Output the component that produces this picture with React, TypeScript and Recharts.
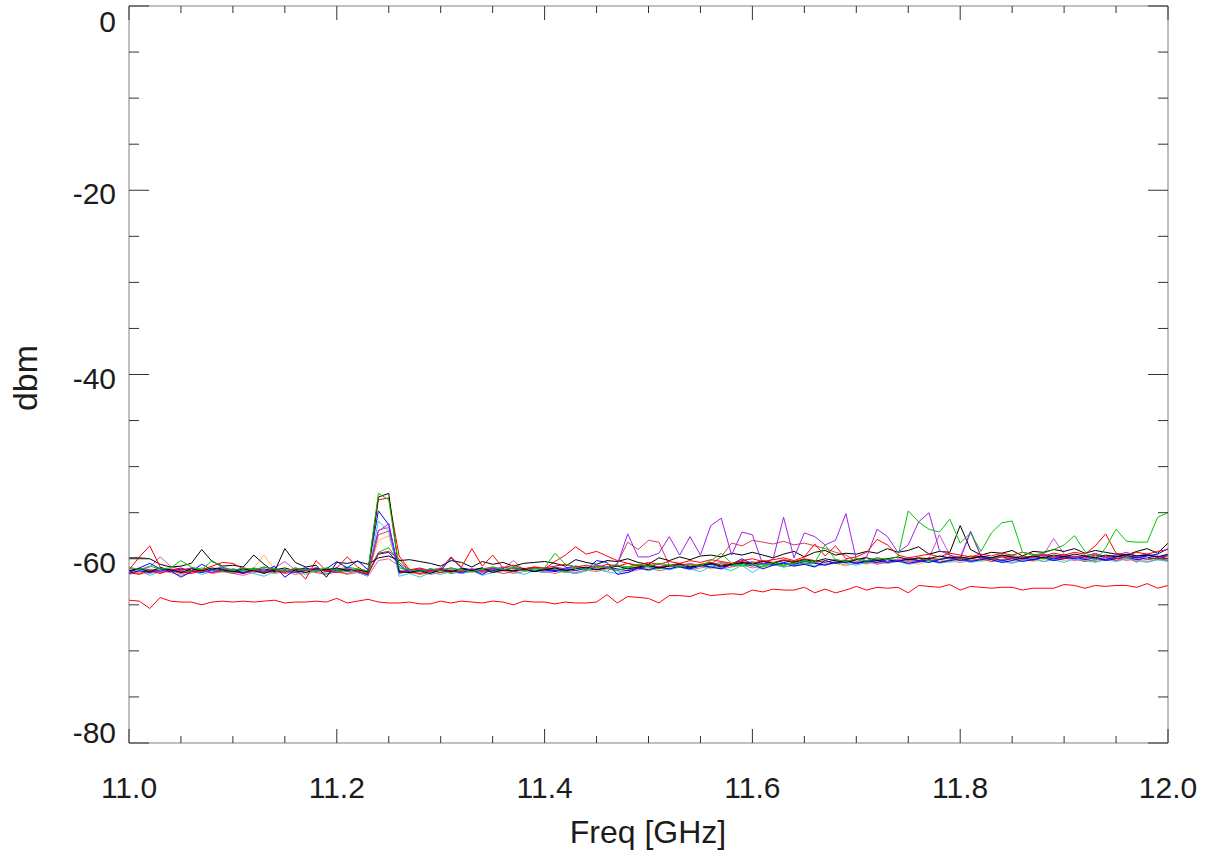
import React from 'react';
import { LineChart, Line, XAxis, YAxis } from 'recharts';

// ---------- categories (frequency, GHz) ----------
const freqs = [
  11.00, 11.01, 11.02, 11.03, 11.04, 11.05, 11.06, 11.07, 11.08, 11.09,
  11.10, 11.11, 11.12, 11.13, 11.14, 11.15, 11.16, 11.17, 11.18, 11.19,
  11.20, 11.21, 11.22, 11.23, 11.24, 11.25, 11.26, 11.27, 11.28, 11.29,
  11.30, 11.31, 11.32, 11.33, 11.34, 11.35, 11.36, 11.37, 11.38, 11.39,
  11.40, 11.41, 11.42, 11.43, 11.44, 11.45, 11.46, 11.47, 11.48, 11.49,
  11.50, 11.51, 11.52, 11.53, 11.54, 11.55, 11.56, 11.57, 11.58, 11.59,
  11.60, 11.61, 11.62, 11.63, 11.64, 11.65, 11.66, 11.67, 11.68, 11.69,
  11.70, 11.71, 11.72, 11.73, 11.74, 11.75, 11.76, 11.77, 11.78, 11.79,
  11.80, 11.81, 11.82, 11.83, 11.84, 11.85, 11.86, 11.87, 11.88, 11.89,
  11.90, 11.91, 11.92, 11.93, 11.94, 11.95, 11.96, 11.97, 11.98, 11.99, 12.00,
];

// ---------- series values (dBm) ----------
const blackA = [
  -59.9, -59.9, -60.0, -60.6, -60.9, -60.8, -60.5, -59.0, -60.3, -60.8,
  -60.7, -60.9, -59.6, -60.6, -61.4, -58.9, -60.4, -60.9, -60.7, -62.0,
  -60.4, -60.5, -60.3, -60.6, -59.9, -59.7, -60.2, -60.1, -60.3, -60.5,
  -60.8, -60.2, -60.4, -60.9, -60.3, -60.6, -60.4, -60.8, -60.5, -60.4,
  -60.3, -60.5, -60.8, -60.1, -60.4, -60.6, -60.2, -60.3, -60.0, -60.4,
  -60.6, -59.9, -60.2, -59.8, -60.1, -59.7, -59.6, -59.8, -59.4, -59.6,
  -59.3, -59.6, -59.9, -59.5, -59.2, -59.8, -59.3, -59.1, -59.6, -59.4,
  -59.5, -59.2, -59.4, -58.9, -59.3, -59.1, -58.7, -59.5, -59.2, -59.3,
  -56.4, -59.0, -59.6, -59.3, -59.4, -59.1, -59.7, -59.2, -59.3, -59.0,
  -59.2, -58.9, -59.4, -59.1, -59.3, -59.5, -59.6, -59.2, -58.9, -59.4, -58.3,
];
const blackB = [
  -61.3, -61.1, -61.4, -61.0, -61.2, -61.5, -61.1, -61.3, -61.0, -61.2,
  -61.4, -61.1, -61.3, -61.6, -61.2, -61.0, -61.3, -61.5, -61.1, -61.2,
  -61.0, -61.3, -61.2, -61.4, -53.3, -52.9, -61.4, -61.5, -61.3, -61.6,
  -61.2, -61.4, -61.1, -61.3, -61.0, -61.5, -61.2, -61.3, -61.1, -61.4,
  -61.2, -61.0, -61.3, -61.1, -60.9, -61.2, -61.0, -60.8, -61.1, -60.9,
  -60.7, -61.0, -60.8, -60.6, -60.9, -60.7, -60.5, -60.8, -60.6, -60.4,
  -60.6, -60.3, -60.5, -60.2, -60.4, -60.1, -60.3, -60.0, -60.2, -60.4,
  -60.1, -59.9, -60.2, -60.0, -59.8, -60.1, -59.9, -60.0, -59.7, -59.9,
  -59.8, -60.0, -59.7, -59.9, -59.6, -59.8, -60.0, -59.7, -59.9, -59.6,
  -59.8, -59.5, -59.7, -59.9, -59.6, -59.8, -59.5, -59.7, -59.6, -59.8, -59.5,
];
const redA = [
  -61.2, -59.8, -58.6, -60.9, -61.3, -61.0, -61.4, -61.2, -60.8, -60.4,
  -60.5, -61.1, -61.3, -60.9, -61.2, -61.5, -61.0, -61.3, -61.1, -61.4,
  -61.0, -59.8, -60.9, -61.5, -53.6, -53.4, -59.7, -61.2, -61.0, -61.3,
  -61.1, -59.8, -60.9, -58.9, -60.8, -59.6, -61.0, -60.7, -61.1, -60.9,
  -61.0, -60.8, -60.6, -60.9, -60.7, -61.0, -60.6, -60.8, -60.5, -60.7,
  -60.4, -60.6, -60.3, -60.5, -60.2, -60.4, -60.1, -60.3, -60.5, -60.2,
  -60.0, -60.3, -60.1, -59.9, -60.2, -59.8, -58.4, -59.7, -58.6, -60.0,
  -59.8, -59.3, -57.9, -58.5, -59.6, -59.9, -59.7, -59.5, -59.8, -59.4,
  -59.6, -59.8, -59.5, -59.7, -59.4, -59.6, -59.3, -59.5, -59.7, -59.4,
  -59.6, -59.3, -59.5, -58.6, -57.3, -59.4, -59.6, -59.3, -59.5, -59.2, -59.0,
];
const redB = [
  -61.5, -61.7, -61.3, -61.6, -61.2, -61.4, -61.6, -61.3, -61.5, -61.2,
  -61.4, -61.6, -61.3, -61.5, -61.2, -61.4, -61.1, -62.2, -60.2, -61.3,
  -61.5, -61.2, -61.4, -61.6, -59.4, -59.2, -60.0, -61.4, -61.6, -61.3,
  -61.5, -61.2, -61.4, -61.1, -61.3, -61.0, -61.2, -61.4, -61.1, -60.9,
  -61.1, -60.3, -59.6, -58.7, -59.5, -59.2, -59.7, -60.2, -60.5, -60.8,
  -60.6, -60.9, -60.7, -60.5, -60.8, -60.6, -60.4, -60.7, -60.5, -60.3,
  -60.5, -60.2, -60.4, -60.1, -60.3, -60.0, -60.2, -60.4, -60.1, -60.3,
  -60.0, -60.2, -59.9, -60.1, -60.3, -60.0, -60.2, -59.9, -60.1, -59.8,
  -60.0, -59.7, -59.9, -60.1, -59.8, -60.0, -59.7, -59.9, -59.6, -59.8,
  -60.0, -59.7, -59.9, -59.6, -59.8, -60.0, -59.7, -59.9, -59.6, -59.8, -59.7,
];
const greenA = [
  -60.9, -61.2, -60.8, -61.1, -61.0, -60.2, -60.9, -61.2, -60.2, -61.0,
  -61.3, -61.0, -61.2, -60.9, -61.1, -61.4, -61.0, -61.2, -61.3, -61.0,
  -61.2, -61.4, -61.1, -61.3, -52.9, -53.6, -61.0, -61.2, -61.4, -61.1,
  -61.3, -61.0, -61.2, -61.4, -61.1, -60.9, -61.2, -61.0, -61.3, -61.1,
  -61.0, -59.4, -60.6, -60.9, -61.2, -60.8, -61.0, -60.7, -60.9, -60.6,
  -60.8, -60.5, -60.7, -60.9, -60.6, -60.8, -60.2, -59.4, -60.5, -60.8,
  -60.6, -60.9, -60.4, -60.7, -60.5, -60.2, -60.4, -58.5, -60.1, -60.3,
  -60.0, -60.2, -59.9, -60.1, -59.8, -54.8, -56.0, -56.8, -57.1, -55.7,
  -58.3, -57.2, -59.2, -57.2, -56.1, -55.9, -59.3, -59.6, -59.4, -59.0,
  -58.5, -57.5, -59.2, -60.3, -58.8, -56.8, -58.1, -58.2, -58.2, -55.5, -55.0,
];
const greenB = [
  -61.4, -61.1, -61.3, -61.0, -61.2, -61.5, -61.3, -61.0, -61.2, -61.4,
  -61.1, -61.3, -61.0, -61.2, -61.5, -61.2, -61.4, -61.1, -61.3, -61.0,
  -61.2, -60.9, -61.1, -61.6, -59.3, -58.8, -60.4, -61.3, -61.1, -61.4,
  -61.2, -61.5, -61.0, -61.3, -61.1, -61.4, -61.2, -60.9, -61.1, -61.3,
  -61.0, -61.2, -61.5, -60.9, -61.1, -60.8, -61.0, -61.3, -60.9, -60.7,
  -60.9, -61.1, -60.8, -60.6, -60.9, -60.7, -61.0, -60.5, -60.8, -60.6,
  -60.4, -60.7, -60.5, -60.8, -60.3, -60.6, -60.4, -60.2, -60.5, -60.3,
  -60.1, -60.4, -60.2, -60.0, -60.3, -60.1, -59.9, -60.2, -60.0, -59.8,
  -60.1, -59.9, -59.7, -60.0, -59.8, -59.6, -59.9, -59.7, -60.0, -59.8,
  -59.6, -59.9, -59.7, -59.5, -59.8, -59.6, -59.9, -59.7, -59.5, -59.8, -59.6,
];
const blueA = [
  -61.5, -61.0, -60.5, -61.1, -61.3, -62.0, -61.4, -60.6, -61.2, -61.0,
  -61.3, -61.6, -61.1, -61.4, -60.8, -62.0, -61.2, -61.0, -61.3, -61.1,
  -60.3, -61.0, -60.2, -61.2, -54.8, -56.3, -61.5, -61.2, -61.4, -61.1,
  -61.3, -59.9, -61.0, -61.2, -61.7, -61.1, -61.3, -61.0, -61.2, -61.4,
  -61.1, -61.3, -61.0, -60.8, -61.2, -60.2, -60.4, -61.7, -61.5, -61.0,
  -61.2, -60.9, -61.1, -60.8, -61.0, -60.7, -60.9, -61.1, -60.6, -60.0,
  -60.6, -61.1, -60.7, -60.5, -60.8, -60.6, -60.9, -60.2, -60.5, -60.3,
  -60.5, -60.2, -60.4, -60.1, -60.3, -60.0, -60.2, -60.4, -60.1, -59.9,
  -60.2, -60.0, -59.8, -60.1, -60.4, -60.2, -59.9, -60.1, -59.8, -60.0,
  -59.8, -60.0, -59.7, -59.9, -60.1, -59.8, -59.6, -59.9, -59.7, -59.5, -58.9,
];
const blueB = [
  -61.6, -61.3, -61.5, -61.2, -61.4, -61.1, -61.3, -61.5, -61.2, -61.4,
  -61.2, -61.5, -61.3, -61.1, -61.4, -61.2, -61.5, -61.3, -61.0, -61.4,
  -61.3, -61.1, -61.4, -61.7, -59.5, -59.3, -60.6, -61.5, -61.2, -61.4,
  -61.1, -61.3, -61.5, -61.2, -61.0, -61.3, -61.1, -61.4, -61.2, -61.0,
  -61.2, -61.4, -61.1, -61.3, -61.0, -61.2, -60.9, -61.1, -61.3, -61.0,
  -60.8, -61.0, -60.7, -60.9, -61.1, -60.8, -60.6, -60.9, -60.7, -60.5,
  -60.8, -60.5, -60.7, -60.4, -60.6, -60.3, -60.5, -60.7, -60.4, -60.2,
  -60.5, -60.3, -60.1, -60.4, -60.2, -60.5, -60.3, -60.1, -60.4, -60.2,
  -60.0, -60.3, -60.1, -59.9, -60.2, -60.0, -60.3, -60.1, -59.9, -60.2,
  -60.0, -59.8, -60.1, -59.9, -60.2, -60.0, -59.8, -60.1, -59.9, -59.7, -60.0,
];
const cyan = [
  -61.6, -61.3, -61.8, -61.4, -61.2, -61.5, -61.3, -61.7, -61.4, -61.2,
  -61.5, -61.3, -61.6, -61.9, -61.4, -61.2, -61.5, -61.7, -61.3, -61.6,
  -61.4, -61.2, -61.5, -61.8, -55.9, -57.0, -61.9, -61.6, -62.0, -61.5,
  -61.7, -61.4, -61.6, -61.3, -61.8, -61.5, -61.2, -61.4, -61.7, -61.3,
  -61.5, -61.2, -61.4, -61.6, -61.3, -61.1, -61.4, -61.6, -61.2, -61.0,
  -61.3, -61.0, -61.2, -60.9, -61.1, -61.4, -60.8, -61.0, -61.3, -60.7,
  -61.5, -60.8, -60.6, -60.9, -60.7, -60.4, -60.8, -60.6, -60.3, -60.5,
  -60.7, -60.4, -60.2, -60.5, -60.3, -60.6, -60.4, -60.2, -60.5, -60.3,
  -60.1, -60.4, -60.2, -60.0, -60.3, -60.5, -60.2, -60.0, -60.3, -60.1,
  -60.4, -60.0, -60.2, -60.4, -60.1, -60.3, -60.0, -60.2, -60.4, -60.1, -60.3,
];
const magenta = [
  -61.0, -61.3, -60.9, -59.8, -60.8, -61.2, -61.0, -61.4, -61.1, -60.9,
  -61.2, -61.5, -61.1, -61.3, -61.0, -60.3, -61.2, -61.0, -61.4, -61.1,
  -61.3, -61.0, -61.2, -61.5, -56.9, -56.6, -61.3, -61.1, -61.4, -61.2,
  -61.0, -61.3, -61.1, -61.4, -61.2, -60.9, -61.1, -60.2, -61.2, -61.0,
  -61.3, -61.0, -61.2, -60.9, -61.1, -60.8, -61.0, -60.7, -60.9, -61.1,
  -60.8, -60.6, -60.9, -60.7, -60.5, -60.8, -60.6, -60.4, -60.7, -60.5,
  -60.3, -60.6, -60.4, -60.7, -60.5, -60.2, -60.4, -60.6, -60.3, -60.1,
  -60.4, -60.2, -60.5, -60.3, -60.0, -60.2, -60.4, -59.9, -57.4, -59.6,
  -60.1, -57.1, -59.8, -60.0, -59.7, -59.9, -60.1, -59.8, -59.6, -57.8,
  -59.5, -59.8, -60.0, -59.7, -59.9, -60.2, -59.8, -60.4, -59.6, -59.9, -59.7,
];
const purple = [
  -61.3, -61.0, -61.2, -61.4, -61.1, -61.3, -61.0, -61.2, -61.5, -61.1,
  -61.3, -61.0, -61.2, -61.4, -61.1, -61.3, -61.5, -61.2, -61.0, -61.3,
  -61.1, -61.4, -61.2, -61.5, -57.0, -56.2, -61.5, -61.3, -61.1, -61.4,
  -61.2, -61.0, -61.3, -61.1, -61.4, -61.2, -60.9, -61.1, -61.3, -61.0,
  -61.2, -60.9, -61.1, -60.8, -61.0, -60.7, -60.9, -60.6, -57.3, -59.8,
  -59.8, -59.4, -57.6, -59.6, -57.6, -59.6, -56.4, -55.6, -59.6, -57.1,
  -57.4, -60.6, -60.0, -55.5, -59.9, -57.2, -57.6, -58.5, -58.0, -55.1,
  -60.1, -59.8, -56.8, -57.6, -59.3, -58.5, -56.0, -55.0, -59.1, -59.6,
  -59.9, -57.0, -59.7, -59.9, -59.6, -59.8, -60.0, -59.7, -59.5, -59.8,
  -59.6, -59.9, -59.7, -59.4, -59.8, -59.6, -59.3, -59.7, -59.5, -59.8, -59.6,
];
const brown = [
  -61.4, -61.6, -61.2, -61.5, -61.3, -61.6, -61.4, -61.2, -61.5, -61.3,
  -61.6, -61.4, -61.1, -61.5, -61.3, -61.6, -61.4, -61.2, -61.5, -61.7,
  -61.4, -61.6, -61.3, -61.8, -57.4, -57.0, -61.6, -61.4, -61.7, -61.5,
  -61.3, -61.6, -61.4, -61.2, -61.5, -61.3, -61.6, -61.4, -61.1, -61.3,
  -61.5, -61.2, -61.4, -61.6, -61.3, -61.1, -61.4, -60.5, -58.2, -59.0,
  -58.0, -58.2, -60.7, -60.9, -60.5, -60.8, -60.6, -59.8, -58.3, -58.6,
  -58.0, -58.2, -58.4, -58.1, -58.5, -58.3, -58.6, -58.9, -59.3, -59.6,
  -60.3, -60.5, -60.2, -60.4, -60.1, -60.3, -60.0, -60.2, -60.4, -60.1,
  -59.9, -60.2, -60.0, -60.3, -60.1, -59.8, -60.0, -60.2, -59.9, -60.1,
  -59.8, -60.0, -60.3, -60.1, -59.9, -60.2, -60.0, -59.8, -60.1, -59.9, -60.2,
];
const orange = [
  -61.2, -61.5, -61.1, -61.4, -61.2, -61.0, -61.3, -61.5, -61.2, -61.4,
  -61.1, -61.3, -61.0, -59.6, -61.2, -61.4, -61.1, -61.3, -61.5, -61.2,
  -61.4, -61.1, -61.3, -61.6, -58.0, -57.5, -61.4, -61.2, -61.5, -61.3,
  -61.1, -61.4, -61.2, -61.5, -61.3, -61.1, -61.4, -61.2, -61.0, -61.3,
  -61.1, -61.4, -61.2, -61.0, -61.3, -61.1, -60.9, -61.2, -61.0, -60.8,
  -61.1, -60.9, -61.2, -60.8, -61.0, -60.7, -61.1, -60.9, -60.6, -60.8,
  -60.6, -60.9, -60.7, -60.5, -60.8, -60.6, -60.4, -60.7, -60.5, -60.8,
  -60.4, -60.6, -60.3, -60.5, -60.2, -60.4, -60.6, -60.3, -60.1, -60.4,
  -60.2, -60.0, -60.3, -60.1, -60.4, -60.2, -60.0, -60.3, -60.1, -59.9,
  -60.2, -60.0, -60.3, -60.1, -59.9, -60.2, -60.0, -60.3, -60.1, -59.9, -60.0,
];
const pink = [
  -61.7, -61.4, -61.6, -61.3, -61.5, -61.8, -61.5, -61.3, -61.6, -61.4,
  -61.6, -61.8, -61.5, -61.3, -61.6, -61.4, -61.7, -61.5, -61.3, -61.6,
  -61.4, -61.7, -61.5, -61.9, -60.2, -60.0, -60.8, -61.6, -61.4, -61.7,
  -61.5, -61.3, -61.6, -61.4, -61.2, -61.5, -61.3, -61.6, -61.4, -61.2,
  -61.4, -61.6, -61.3, -61.5, -61.2, -61.4, -61.1, -61.3, -61.5, -61.2,
  -61.0, -61.3, -61.1, -60.9, -61.2, -61.0, -60.8, -61.1, -60.9, -60.7,
  -61.0, -60.8, -60.6, -60.9, -60.7, -60.5, -60.8, -60.6, -60.4, -60.7,
  -60.5, -60.3, -60.6, -60.4, -60.2, -60.5, -60.3, -60.1, -60.4, -60.2,
  -60.4, -60.2, -60.0, -60.3, -60.1, -60.4, -60.2, -60.0, -60.3, -60.1,
  -59.9, -60.2, -60.0, -60.3, -60.1, -59.9, -60.2, -60.0, -60.3, -60.1, -60.2,
];
const lowRed = [
  -64.5, -64.6, -65.4, -64.2, -64.6, -64.7, -64.7, -65.0, -64.7, -64.6,
  -64.7, -64.6, -64.7, -64.6, -64.5, -64.8, -64.7, -64.7, -64.6, -64.7,
  -64.3, -64.8, -64.6, -64.4, -64.7, -64.8, -64.8, -64.7, -64.9, -64.9,
  -64.6, -64.8, -64.6, -64.7, -64.8, -64.6, -64.7, -65.0, -64.6, -64.7,
  -64.7, -64.9, -64.7, -64.8, -64.8, -64.7, -63.9, -64.8, -64.1, -64.2,
  -64.3, -64.8, -64.0, -64.0, -64.1, -63.7, -64.0, -63.9, -63.8, -63.9,
  -63.4, -63.6, -63.3, -63.4, -63.4, -63.1, -63.7, -63.3, -63.7, -63.4,
  -63.0, -63.4, -63.1, -63.2, -63.1, -63.7, -62.9, -63.0, -63.1, -62.8,
  -63.4, -63.0, -63.1, -63.2, -63.1, -63.1, -63.4, -63.2, -63.2, -63.2,
  -62.8, -62.9, -63.2, -62.9, -63.0, -62.9, -62.9, -63.1, -62.7, -63.2, -62.9,
];

// ---------- ticks ----------
const xTicks = [11.0, 11.05, 11.1, 11.15, 11.2, 11.25, 11.3, 11.35, 11.4, 11.45, 11.5,
  11.55, 11.6, 11.65, 11.7, 11.75, 11.8, 11.85, 11.9, 11.95, 12.0];
const xMajor = [11.0, 11.2, 11.4, 11.6, 11.8, 12.0];
const xLabels = ['11.0', '11.2', '11.4', '11.6', '11.8', '12.0'];
const yTicks = [-80, -75, -70, -65, -60, -55, -50, -45, -40, -35, -30, -25, -20, -15, -10, -5, 0];
const yMajor = [-80, -60, -40, -20, 0];
const yLabels = ['-80', '-60', '-40', '-20', '0'];

const series = [
  { key: 'lowRed', color: '#ff0000', values: lowRed },
  { key: 'pink', color: '#e8608c', values: pink },
  { key: 'orange', color: '#ffb860', values: orange },
  { key: 'brown', color: '#cc4455', values: brown },
  { key: 'cyan', color: '#30c8e0', values: cyan },
  { key: 'magenta', color: '#d050d0', values: magenta },
  { key: 'blueB', color: '#0000ff', values: blueB },
  { key: 'greenB', color: '#00c800', values: greenB },
  { key: 'redB', color: '#ff0000', values: redB },
  { key: 'blackA', color: '#000000', values: blackA },
  { key: 'blueA', color: '#0000ff', values: blueA },
  { key: 'purple', color: '#a020f0', values: purple },
  { key: 'redA', color: '#ff0000', values: redA },
  { key: 'blackB', color: '#000000', values: blackB },
  { key: 'greenA', color: '#00c800', values: greenA },
];

const data = freqs.map((f, i) => {
  const row: Record<string, number> = { f };
  series.forEach((s) => { row[s.key] = s.values[i]; });
  return row;
});

const FONT = '"Liberation Sans", Arial, Helvetica, sans-serif';
const TEXT = '#1c1c1c';
const TICK = '#333333';
const AXIS = '#808080';
const OFF = 8; // tickSize 6 + tickMargin 2
const PLOT_TOP = 6;
const PLOT_BOTTOM = 743;

const majorIndex = (list: number[], v: number) => list.findIndex((m) => Math.abs(m - v) < 1e-6);

const BottomTick = (p: any) => {
  const v = p.payload.value;
  const idx = majorIndex(xMajor, v);
  const ay = p.y - OFF;
  return (
    <g>
      <line x1={p.x} x2={p.x} y1={ay} y2={ay - (idx >= 0 ? 14 : 7)} stroke={TICK} strokeWidth={1} />
      {idx >= 0 && (
        <text x={p.x} y={ay + 55} textAnchor="middle" fontSize={30} fontFamily={FONT} fill={TEXT}>
          {xLabels[idx]}
        </text>
      )}
    </g>
  );
};

const TopTick = (p: any) => {
  const v = p.payload.value;
  const idx = majorIndex(xMajor, v);
  const ay = p.y + OFF;
  return <line x1={p.x} x2={p.x} y1={ay} y2={ay + (idx >= 0 ? 14 : 7)} stroke={TICK} strokeWidth={1} />;
};

const LeftTick = (p: any) => {
  const v = p.payload.value;
  const idx = majorIndex(yMajor, v);
  const ax = p.x + OFF;
  const cy = Math.min(Math.max(p.y + 3, PLOT_TOP + 15), PLOT_BOTTOM - 11);
  return (
    <g>
      <line x1={ax} x2={ax + (idx >= 0 ? 20 : 10)} y1={p.y} y2={p.y} stroke={TICK} strokeWidth={1} />
      {idx >= 0 && (
        <text x={ax - 13} y={cy + 11} textAnchor="end" fontSize={30} fontFamily={FONT} fill={TEXT}>
          {yLabels[idx]}
        </text>
      )}
    </g>
  );
};

const RightTick = (p: any) => {
  const v = p.payload.value;
  const idx = majorIndex(yMajor, v);
  const ax = p.x - OFF;
  return <line x1={ax} x2={ax - (idx >= 0 ? 20 : 10)} y1={p.y} y2={p.y} stroke={TICK} strokeWidth={1} />;
};

export default function App() {
  return (
    <div style={{ position: 'absolute', left: 0, top: 0, width: 1218, height: 861, background: '#fff' }}>
      <LineChart width={1218} height={861} data={data} margin={{ top: 5, right: 49, bottom: 0, left: 0 }}>
        <XAxis
          xAxisId="b"
          type="number"
          dataKey="f"
          domain={[11, 12]}
          ticks={xTicks}
          interval={0}
          height={118}
          tickSize={6}
          tickMargin={2}
          tickLine={false}
          axisLine={{ stroke: AXIS }}
          tick={BottomTick}
          allowDataOverflow
        />
        <XAxis
          xAxisId="t"
          orientation="top"
          type="number"
          dataKey="f"
          domain={[11, 12]}
          ticks={xTicks}
          interval={0}
          height={1}
          tickSize={6}
          tickMargin={2}
          tickLine={false}
          axisLine={{ stroke: AXIS }}
          tick={TopTick}
          allowDataOverflow
        />
        <YAxis
          yAxisId="l"
          type="number"
          domain={[-80, 0]}
          ticks={yTicks}
          interval={0}
          width={129}
          tickSize={6}
          tickMargin={2}
          tickLine={false}
          axisLine={{ stroke: AXIS }}
          tick={LeftTick}
          allowDataOverflow
        />
        <YAxis
          yAxisId="r"
          orientation="right"
          type="number"
          domain={[-80, 0]}
          ticks={yTicks}
          interval={0}
          width={1}
          tickSize={6}
          tickMargin={2}
          tickLine={false}
          axisLine={{ stroke: AXIS }}
          tick={RightTick}
          allowDataOverflow
        />
        {series.map((s) => (
          <Line
            key={s.key}
            xAxisId="b"
            yAxisId="l"
            type="linear"
            dataKey={s.key}
            stroke={s.color}
            strokeWidth={1}
            dot={false}
            activeDot={false}
            isAnimationActive={false}
          />
        ))}
      </LineChart>
      <svg width={1218} height={861} style={{ position: 'absolute', left: 0, top: 0, pointerEvents: 'none' }}>
        <text x={648} y={843} textAnchor="middle" fontSize={32} fontFamily={FONT} fill={TEXT}>
          Freq [GHz]
        </text>
        <text
          x={25}
          y={378}
          textAnchor="middle"
          dominantBaseline="central"
          fontSize={34}
          fontFamily={FONT}
          fill={TEXT}
          transform="rotate(-90 25 378)"
        >
          dbm
        </text>
      </svg>
    </div>
  );
}
